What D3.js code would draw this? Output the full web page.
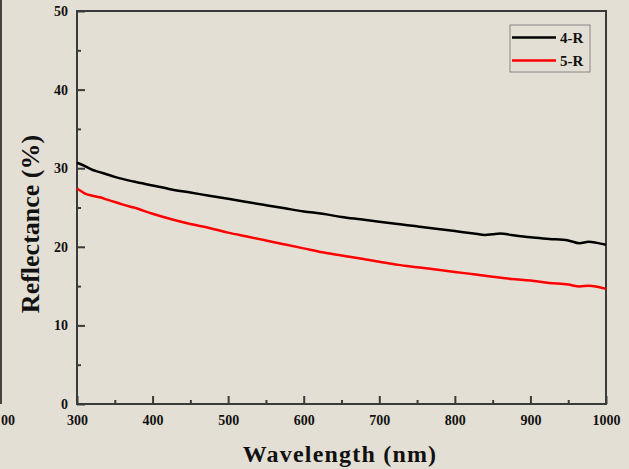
<!DOCTYPE html>
<html>
<head>
<meta charset="utf-8">
<script src="https://cdn.jsdelivr.net/npm/d3@7"></script>
<style>
  html, body { margin: 0; padding: 0; background: #e4dfd4; }
  svg { display: block; font-family: "Liberation Serif", "Times New Roman", serif; }
</style>
</head>
<body>
<div id="chart"></div>
<script>
// Wavelength (nm) and reflectance (%)
const wl4R = [300, 310, 320, 330, 340, 350, 375, 400, 425, 450, 475, 500, 525, 550, 575, 600,
              625, 650, 675, 700, 725, 750, 775, 800, 825, 840, 850, 860, 875, 900, 925, 950,
              965, 977, 988, 1000];
const refl4R = [30.7, 30.3, 29.8, 29.5, 29.2, 28.9, 28.3, 27.8, 27.3, 26.9, 26.5, 26.1, 25.7, 25.3, 24.9, 24.5,
                24.2, 23.8, 23.5, 23.2, 22.9, 22.6, 22.3, 22.0, 21.7, 21.5, 21.6, 21.7, 21.5, 21.2, 21.0, 20.8,
                20.45, 20.65, 20.5, 20.25];

const wl5R = [300, 305, 310, 320, 330, 340, 350, 360, 375, 400, 425, 450, 475, 500, 525, 550,
              575, 600, 625, 650, 675, 700, 725, 750, 775, 800, 825, 850, 875, 900, 925, 950,
              965, 977, 1000];
const refl5R = [27.4, 27.1, 26.8, 26.5, 26.3, 26.0, 25.7, 25.4, 25.0, 24.2, 23.5, 22.9, 22.4, 21.8, 21.3, 20.8,
                20.3, 19.8, 19.3, 18.9, 18.5, 18.1, 17.7, 17.4, 17.1, 16.8, 16.5, 16.2, 15.9, 15.7, 15.4, 15.2,
                14.95, 15.05, 14.65];

const seriesNames = ["4-R", "5-R"];
const seriesColors = ["#000000", "#ff0000"];
const xTicks = [300, 400, 500, 600, 700, 800, 900, 1000];
const yTicks = [0, 10, 20, 30, 40, 50];

const width = 629, height = 469;
const margin = { top: 11, right: 23, bottom: 65, left: 77 };

const svg = d3.select("#chart").append("svg")
    .attr("width", width)
    .attr("height", height);

svg.append("rect").attr("width", width).attr("height", height).attr("fill", "#e4dfd4");

// leftover edge of the neighbouring panel
svg.append("line")
    .attr("x1", 1).attr("x2", 1).attr("y1", 0).attr("y2", 404)
    .attr("stroke", "#444").attr("stroke-width", 2);
svg.append("text").attr("x", 1).attr("y", 425)
    .attr("font-size", 14).attr("font-weight", "bold").attr("fill", "#111").text("00");

const x = d3.scaleLinear().domain([300, 1000]).range([margin.left, width - margin.right]);
const y = d3.scaleLinear().domain([0, 50]).range([height - margin.bottom, margin.top]);

// Frame
svg.append("rect")
    .attr("x", x(300)).attr("y", y(50))
    .attr("width", x(1000) - x(300)).attr("height", y(0) - y(50))
    .attr("fill", "none").attr("stroke", "#3a3a3a").attr("stroke-width", 2);

// Axes with inward ticks
const xAxis = g => g.attr("transform", `translate(0,${y(0)})`)
    .call(d3.axisBottom(x).tickValues(xTicks).tickSize(-8).tickPadding(11).tickFormat(d3.format("d")))
    .call(g => g.select(".domain").remove());
const xMinor = g => g.attr("transform", `translate(0,${y(0)})`)
    .call(d3.axisBottom(x).tickValues(d3.range(350, 1000, 100)).tickSize(-4).tickFormat(""))
    .call(g => g.select(".domain").remove());
const yAxis = g => g.attr("transform", `translate(${x(300)},0)`)
    .call(d3.axisLeft(y).tickValues(yTicks).tickSize(-8).tickPadding(9))
    .call(g => g.select(".domain").remove());
const yMinor = g => g.attr("transform", `translate(${x(300)},0)`)
    .call(d3.axisLeft(y).tickValues(d3.range(5, 50, 10)).tickSize(-4).tickFormat(""))
    .call(g => g.select(".domain").remove());

[xAxis, xMinor, yAxis, yMinor].forEach(f => {
    const g = svg.append("g").call(f);
    g.selectAll("line").attr("stroke", "#3a3a3a").attr("stroke-width", 2);
    g.selectAll("text")
        .attr("font-family", "Liberation Serif, serif")
        .attr("font-size", 14).attr("font-weight", "bold").attr("fill", "#111");
});

// Curves
const line = d3.line().x(d => x(d[0])).y(d => y(d[1])).curve(d3.curveMonotoneX);
const data = [
    d3.zip(wl4R, refl4R),
    d3.zip(wl5R, refl5R)
];
svg.append("g").selectAll("path")
    .data(data)
    .join("path")
    .attr("d", line)
    .attr("fill", "none")
    .attr("stroke", (d, i) => seriesColors[i])
    .attr("stroke-width", 2.5);

// Legend
const legend = svg.append("g");
legend.append("rect")
    .attr("x", 510).attr("y", 25).attr("width", 80).attr("height", 47)
    .attr("fill", "none").attr("stroke", "#888").attr("stroke-width", 1);
seriesNames.forEach((name, i) => {
    const ly = 37.5 + i * 23;
    legend.append("line")
        .attr("x1", 512).attr("x2", 556).attr("y1", ly).attr("y2", ly)
        .attr("stroke", seriesColors[i]).attr("stroke-width", 2.5);
    legend.append("text")
        .attr("x", 560).attr("y", ly + 5)
        .attr("font-size", 15).attr("font-weight", "bold").attr("fill", "#111")
        .text(name);
});

// Axis titles
svg.append("text")
    .attr("x", 340).attr("y", 462)
    .attr("text-anchor", "middle")
    .attr("font-size", 24).attr("font-weight", "bold").attr("letter-spacing", 1.2).attr("fill", "#111")
    .text("Wavelength (nm)");
svg.append("text")
    .attr("transform", "translate(39,224) rotate(-90)")
    .attr("text-anchor", "middle")
    .attr("font-size", 26).attr("font-weight", "bold").attr("fill", "#111")
    .text("Reflectance (%)");
</script>
</body>
</html>
